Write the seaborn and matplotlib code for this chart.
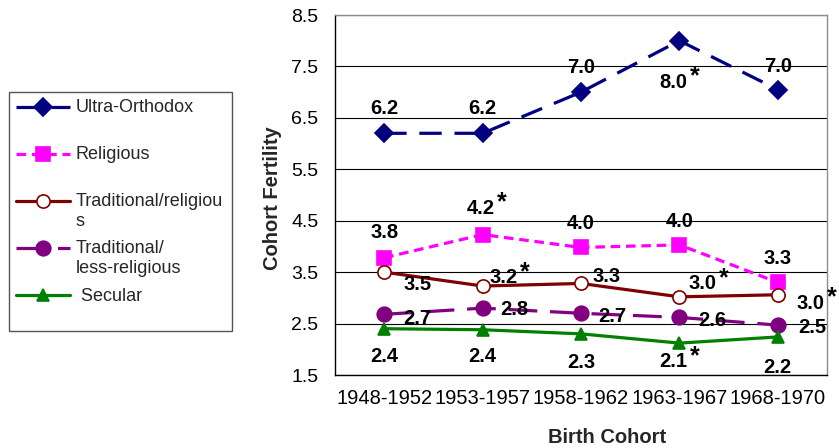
import numpy as np
import pandas as pd
import matplotlib
matplotlib.use("Agg")
import matplotlib.pyplot as plt
import seaborn as sns

# ---------------- data ----------------
COHORTS = ["1948-1952", "1953-1957", "1958-1962", "1963-1967", "1968-1970"]
GROUPS = ["Ultra-Orthodox", "Religious", "Traditional/religious",
          "Traditional/less-religious", "Secular"]

ultra_orthodox = [6.2, 6.2, 7.0, 8.0, 7.05]
religious = [3.78, 4.23, 3.98, 4.03, 3.3]
traditional_religious = [3.5, 3.23, 3.28, 3.02, 3.06]
traditional_less = [2.68, 2.8, 2.7, 2.62, 2.47]
secular = [2.4, 2.38, 2.3, 2.12, 2.24]

ultra_labels = ["6.2", "6.2", "7.0", "8.0", "7.0"]
religious_labels = ["3.8", "4.2", "4.0", "4.0", "3.3"]
trad_rel_labels = ["3.5", "3.2", "3.3", "3.0", "3.0"]
trad_less_labels = ["2.7", "2.8", "2.7", "2.6", "2.5"]
secular_labels = ["2.4", "2.4", "2.3", "2.1", "2.2"]

ultra_stars = [False, False, False, True, False]
religious_stars = [False, True, False, False, False]
trad_rel_stars = [False, True, False, True, True]
trad_less_stars = [False, False, False, False, False]
secular_stars = [False, False, False, True, False]

LEGEND_LABELS = ["Ultra-Orthodox\n", "Religious\n", "Traditional/religiou\ns",
                 "Traditional/\nless-religious", " Secular\n"]

SERIES = [ultra_orthodox, religious, traditional_religious, traditional_less, secular]
LABELS = [ultra_labels, religious_labels, trad_rel_labels, trad_less_labels, secular_labels]
STARS = [ultra_stars, religious_stars, trad_rel_stars, trad_less_stars, secular_stars]

# ---------------- styles / layout ----------------
PALETTE = {"Ultra-Orthodox": "#000080", "Religious": "#FF00FF",
           "Traditional/religious": "#800000",
           "Traditional/less-religious": "#800080", "Secular": "#008000"}
MARKERS = {"Ultra-Orthodox": "D", "Religious": "s", "Traditional/religious": "o",
           "Traditional/less-religious": "o", "Secular": "^"}
DASHES = {"Ultra-Orthodox": (7, 4), "Religious": (3, 1.8), "Traditional/religious": "",
          "Traditional/less-religious": (9, 4), "Secular": ""}
MSIZES = [9, 9.5, 9.5, 10.5, 8]

# label offsets in pixels (dx right, dy down) relative to the point
OFFSETS = [
    [(0, -26), (0, -26), (0, -26), (-6, 40), (0, -25)],
    [(0, -27), (-2, -28), (0, -25), (0, -25), (0, -25)],
    [(33, 11), (21, -10), (26, -8), (23, -15), (33, 7)],
    [(33, 3), (32, 0), (31, 2), (33, 2), (35, 1)],
    [(0, 26), (0, 25), (0, 27), (-6, 17), (0, 29)],
]
STAR_OFF = (21, -11)

rows = []
for g, vals in zip(GROUPS, SERIES):
    for i, v in enumerate(vals):
        rows.append({"group": g, "pos": i, "value": v})
df = pd.DataFrame(rows)

sns.set_style("white")
plt.rcParams["font.family"] = ["Liberation Sans", "DejaVu Sans"]

W, H = 839, 448
fig = plt.figure(figsize=(W / 100, H / 100), dpi=100)
ax = fig.add_axes([335 / W, 1 - 375 / H, 492 / W, 360 / H])

sns.lineplot(data=df, x="pos", y="value", hue="group", style="group",
             hue_order=GROUPS, style_order=GROUPS, palette=PALETTE,
             markers=MARKERS, dashes=DASHES, linewidth=2.3, markersize=10,
             legend=False, sort=False, estimator=None, ax=ax)

lines = ax.get_lines()[:5]
for ln, g, ms in zip(lines, GROUPS, MSIZES):
    c = PALETTE[g]
    ln.set_markersize(ms)
    ln.set_markeredgecolor(c)
    ln.set_markeredgewidth(1.2)
    ln.set_markerfacecolor("white" if g == "Traditional/religious" else c)
    ln.set_clip_on(False)

# axes styling
ax.set_xlim(-0.5, 4.5)
ax.set_ylim(1.5, 8.5)
yt = np.arange(1.5, 8.51, 1.0)
ax.set_yticks(yt)
ax.set_yticklabels([f"{v:.1f}" for v in yt])
ax.set_xticks(np.arange(-0.5, 4.6, 1.0))
ax.set_xticklabels([])
ax.set_xticks(range(len(COHORTS)), minor=True)
ax.set_xticklabels(COHORTS, minor=True)
ax.tick_params(axis="x", which="major", length=5, width=1, direction="out", color="black")
ax.tick_params(axis="x", which="minor", length=0, pad=10, labelsize=14.5, labelcolor="black")
ax.tick_params(axis="y", which="major", length=5, width=1, direction="out",
               color="black", pad=7, labelsize=14, labelcolor="black")
ax.yaxis.grid(True, color="black", linewidth=0.8)
ax.xaxis.grid(False)
ax.set_axisbelow(True)
for s in ["left", "bottom"]:
    ax.spines[s].set_color("black")
    ax.spines[s].set_linewidth(1.0)
for s in ["top", "right"]:
    ax.spines[s].set_color("#8c8c8c")
    ax.spines[s].set_linewidth(1.0)
    ax.spines[s].set_visible(True)

ax.set_xlabel("Birth Cohort", fontsize=14.5, fontweight="bold")
ax.xaxis.set_label_coords(0.553, -0.147)
ax.set_ylabel("Cohort Fertility", fontsize=14.5, fontweight="bold")
ax.yaxis.set_label_coords(-0.108, 0.49)

# data labels
for vals, labs, stars, offs in zip(SERIES, LABELS, STARS, OFFSETS):
    for i, (v, lab, st, (dx, dy)) in enumerate(zip(vals, labs, stars, offs)):
        ax.annotate(lab, xy=(i, v), xytext=(dx, -(dy + 7)), textcoords="offset pixels",
                    ha="center", va="baseline", fontsize=14.5, fontweight="bold",
                    color="black", annotation_clip=False)
        if st:
            ax.annotate("*", xy=(i, v),
                        xytext=(dx + STAR_OFF[0], -(dy + STAR_OFF[1] + 14)),
                        textcoords="offset pixels", ha="center", va="baseline",
                        fontsize=18, fontweight="bold", color="black",
                        annotation_clip=False)

# legend
leg = ax.legend(handles=lines, labels=LEGEND_LABELS, loc="upper left",
                bbox_to_anchor=(9 / W, 1 - 92 / H, 223 / W, 0),
                bbox_transform=fig.transFigure, mode="expand", fontsize=13,
                handlelength=3.0, handletextpad=0.3, handleheight=1.1,
                labelspacing=0.58, borderpad=0.4, borderaxespad=0,
                frameon=True, fancybox=False, edgecolor="#555555", framealpha=1)
leg.get_frame().set_linewidth(1.0)
for col in leg._legend_handle_box.get_children():
    for item in col.get_children():
        item.align = "top"

fig.savefig("out.png", dpi=100)
